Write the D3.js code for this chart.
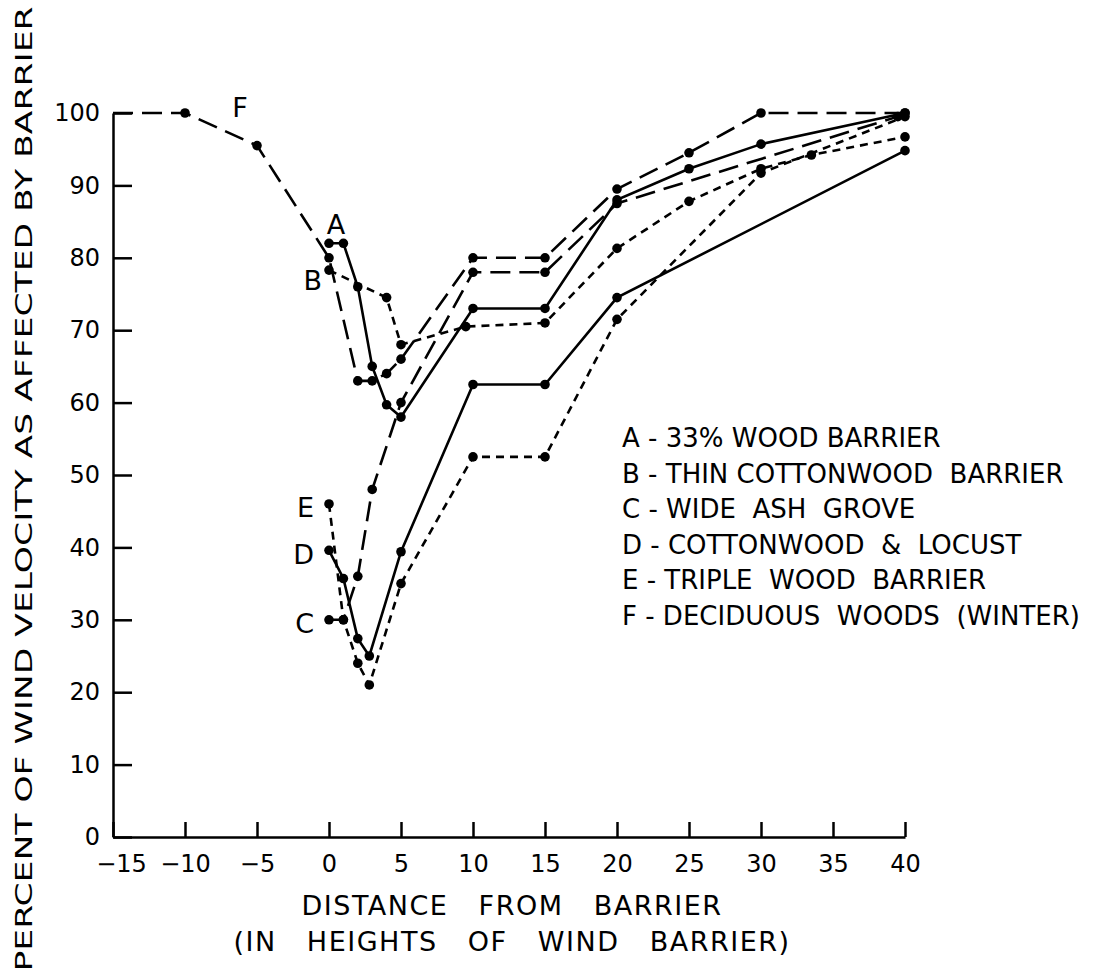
<!DOCTYPE html>
<html>
<head>
<meta charset="utf-8">
<script src="https://cdnjs.cloudflare.com/ajax/libs/d3/7.8.5/d3.min.js"></script>
<style>
  body { margin: 0; background: #fff; }
  svg text { font-family: "DejaVu Sans", sans-serif; fill: #000; }
</style>
</head>
<body>
<div id="figure"></div>
<script>
// distance from barrier (heights) and percent of open wind velocity, one pair per barrier
const aX = [0, 1, 2, 3, 4, 5, 10, 15, 20, 25, 30, 40];
const aY = [82, 82, 76, 65, 59.7, 58, 73, 73, 88, 92.3, 95.7, 100];

const bX = [0, 4, 5, 9.5, 15, 20, 25, 30, 33.5, 40];
const bY = [78.3, 74.5, 68, 70.5, 71, 81.3, 87.8, 92.3, 94.2, 96.7];

const cX = [0, 1, 2, 3, 5, 10, 15, 20, 39.5];
const cY = [30, 30, 36, 48, 60, 78, 78, 87.5, 99.5];

const dX = [0, 1, 2, 2.8, 5, 10, 15, 20, 40];
const dY = [39.6, 35.7, 27.4, 25, 39.4, 62.5, 62.5, 74.5, 94.8];

const eX = [0, 1, 2, 2.8, 5, 10, 15, 20, 30, 40];
const eY = [46, 30, 24, 21, 35, 52.5, 52.5, 71.5, 91.7, 99.5];

const fX = [-15, -10, -5, 0, 2, 3, 4, 5, 10, 15, 20, 25, 30, 40];
const fY = [100, 100, 95.5, 80, 63, 63, 64, 66, 80, 80, 89.5, 94.5, 100, 100];

const xTicks = [-15, -10, -5, 0, 5, 10, 15, 20, 25, 30, 35, 40];
const yTicks = [0, 10, 20, 30, 40, 50, 60, 70, 80, 90, 100];

const legendLines = [
  "A - 33% WOOD BARRIER",
  "B - THIN COTTONWOOD  BARRIER",
  "C - WIDE  ASH  GROVE",
  "D - COTTONWOOD  &  LOCUST",
  "E - TRIPLE  WOOD  BARRIER",
  "F - DECIDUOUS  WOODS  (WINTER)"
];

const yTitle = "PERCENT OF WIND VELOCITY AS AFFECTED BY BARRIER";
const xTitle1 = "DISTANCE   FROM   BARRIER";
const xTitle2 = "(IN   HEIGHTS   OF   WIND   BARRIER)";

const LONG = "20,9", SHORT = "8,6";
const series = [
  {key: "A", xs: aX, ys: aY, dash: null,  lx: 7,   ly: -9, anchor: "middle"},
  {key: "B", xs: bX, ys: bY, dash: SHORT, lx: -7,  ly: 20, anchor: "end"},
  {key: "C", xs: cX, ys: cY, dash: LONG,  lx: -15, ly: 13, anchor: "end"},
  {key: "D", xs: dX, ys: dY, dash: null,  lx: -15, ly: 14, anchor: "end"},
  {key: "E", xs: eX, ys: eY, dash: SHORT, lx: -15, ly: 13, anchor: "end"},
  {key: "F", xs: fX, ys: fY, dash: LONG,  lx: -17, ly: 4,  anchor: "middle"}
];

// set the dimensions of the graph
const W = 1103, H = 978;
const svg = d3.select("#figure")
  .append("svg")
  .attr("width", W)
  .attr("height", H);

const x = d3.scaleLinear().domain([-15, 40]).range([113, 905]);
const y = d3.scaleLinear().domain([0, 100]).range([837, 113]);

// X axis, ticks pointing up
svg.append("g")
  .attr("transform", `translate(0, ${y(0)})`)
  .call(d3.axisBottom(x).tickValues(xTicks).tickSizeInner(-15).tickSizeOuter(0).tickPadding(18))
  .call(g => g.select(".domain").attr("stroke-width", 2.5))
  .call(g => g.selectAll(".tick line").attr("stroke-width", 2.5))
  .call(g => g.selectAll(".tick text").attr("font-size", 24).attr("font-family", "DejaVu Sans")
    .attr("dx", d => d === -15 ? 8 : 0)
    .text(d => d < 0 ? "\u2212" + Math.abs(d) : d));

// Y axis, ticks pointing right
svg.append("g")
  .attr("transform", `translate(${x(-15)}, 0)`)
  .call(d3.axisLeft(y).tickValues(yTicks).tickSizeInner(-19).tickSizeOuter(0).tickPadding(13))
  .call(g => g.select(".domain").attr("stroke-width", 2.5))
  .call(g => g.selectAll(".tick line").attr("stroke-width", 2.5))
  .call(g => g.selectAll(".tick text").attr("font-size", 24).attr("font-family", "DejaVu Sans"));

// curves
const line = d3.line()
  .x(d => x(d[0]))
  .y(d => y(d[1]));

series.forEach(s => {
  const pts = s.xs.map((v, i) => [v, s.ys[i]]);
  svg.append("path")
    .datum(pts)
    .attr("d", line)
    .attr("fill", "none")
    .attr("stroke", "#000")
    .attr("stroke-width", 2.6)
    .attr("stroke-dasharray", s.dash);

  // the F curve starts at the axis corner without a dot
  svg.selectAll(".dot" + s.key)
    .data(pts.filter(d => d[0] > -15))
    .join("circle")
    .attr("class", "dot" + s.key)
    .attr("cx", d => x(d[0]))
    .attr("cy", d => y(d[1]))
    .attr("r", 4.8)
    .attr("fill", "#000");

  // letter next to the start of the curve (F sits above its -5 point)
  const p0 = s.key === "F" ? pts[2] : pts[0];
  svg.append("text")
    .attr("x", x(p0[0]) + s.lx)
    .attr("y", s.key === "F" ? y(100) + s.ly : y(p0[1]) + s.ly)
    .attr("text-anchor", s.anchor)
    .attr("font-size", 27)
    .text(s.key);
});

// legend
svg.append("g")
  .selectAll("text")
  .data(legendLines)
  .join("text")
  .attr("x", 622)
  .attr("y", (d, i) => 447 + i * 35.6)
  .attr("font-size", 26)
  .style("white-space", "pre")
  .text(d => d);

// axis titles
svg.append("text")
  .attr("transform", `translate(32, ${H / 2}) rotate(-90)`)
  .attr("text-anchor", "middle")
  .attr("font-size", 23)
  .attr("textLength", 965)
  .attr("lengthAdjust", "spacingAndGlyphs")
  .text(yTitle);

svg.append("text")
  .attr("x", 512)
  .attr("y", 915)
  .attr("text-anchor", "middle")
  .attr("font-size", 27)
  .attr("letter-spacing", 1.5)
  .style("white-space", "pre")
  .text(xTitle1);

svg.append("text")
  .attr("x", 512)
  .attr("y", 951)
  .attr("text-anchor", "middle")
  .attr("font-size", 27)
  .attr("letter-spacing", 1.5)
  .style("white-space", "pre")
  .text(xTitle2);
</script>
</body>
</html>
